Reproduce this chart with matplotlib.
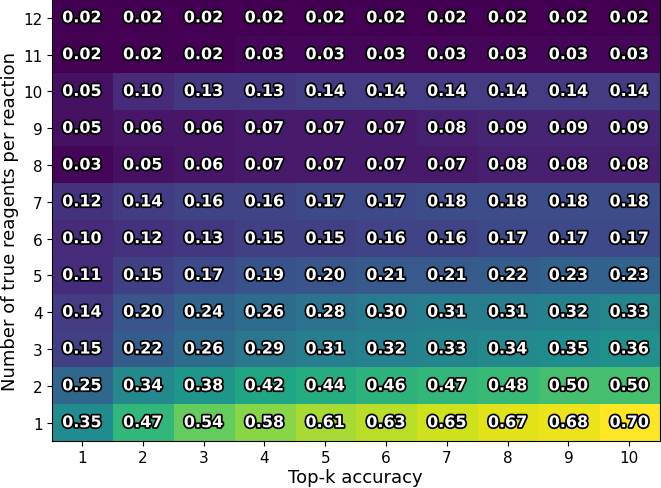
import numpy as np
import matplotlib.pyplot as plt
import matplotlib.patheffects as pe

top_k = [1, 2, 3, 4, 5, 6, 7, 8, 9, 10]
n_reagents = [1, 2, 3, 4, 5, 6, 7, 8, 9, 10, 11, 12]

# accuracy per row (row index = number of true reagents, starting from 1)
acc_1 = [0.35, 0.47, 0.54, 0.58, 0.61, 0.63, 0.65, 0.67, 0.68, 0.70]
acc_2 = [0.25, 0.34, 0.38, 0.42, 0.44, 0.46, 0.47, 0.48, 0.50, 0.50]
acc_3 = [0.15, 0.22, 0.26, 0.29, 0.31, 0.32, 0.33, 0.34, 0.35, 0.36]
acc_4 = [0.14, 0.20, 0.24, 0.26, 0.28, 0.30, 0.31, 0.31, 0.32, 0.33]
acc_5 = [0.11, 0.15, 0.17, 0.19, 0.20, 0.21, 0.21, 0.22, 0.23, 0.23]
acc_6 = [0.10, 0.12, 0.13, 0.15, 0.15, 0.16, 0.16, 0.17, 0.17, 0.17]
acc_7 = [0.12, 0.14, 0.16, 0.16, 0.17, 0.17, 0.18, 0.18, 0.18, 0.18]
acc_8 = [0.03, 0.05, 0.06, 0.07, 0.07, 0.07, 0.07, 0.08, 0.08, 0.08]
acc_9 = [0.05, 0.06, 0.06, 0.07, 0.07, 0.07, 0.08, 0.09, 0.09, 0.09]
acc_10 = [0.05, 0.10, 0.13, 0.13, 0.14, 0.14, 0.14, 0.14, 0.14, 0.14]
acc_11 = [0.02, 0.02, 0.02, 0.03, 0.03, 0.03, 0.03, 0.03, 0.03, 0.03]
acc_12 = [0.02, 0.02, 0.02, 0.02, 0.02, 0.02, 0.02, 0.02, 0.02, 0.02]

grid = np.array([acc_1, acc_2, acc_3, acc_4, acc_5, acc_6,
                 acc_7, acc_8, acc_9, acc_10, acc_11, acc_12])

fig, ax = plt.subplots(figsize=(6.61, 4.89), dpi=100)
fig.subplots_adjust(left=0.078, right=0.998, top=0.999, bottom=0.096)

ax.imshow(grid, cmap='viridis', origin='lower', aspect='auto',
          extent=(0.5, 10.5, 0.5, 12.5))

for i, r in enumerate(n_reagents):
    for j, k in enumerate(top_k):
        ax.text(k, r, f"{grid[i, j]:.2f}", ha='center', va='center',
                color='white', fontsize=11.5, fontweight='bold',
                path_effects=[pe.withStroke(linewidth=2.5, foreground='black')])

ax.set_xticks(top_k)
ax.set_yticks(n_reagents)
ax.tick_params(labelsize=11, pad=3)
ax.set_xlabel('Top-k accuracy', fontsize=13, labelpad=2)
ax.set_ylabel('Number of true reagents per reaction', fontsize=13, labelpad=3)

fig.savefig('out.png')
